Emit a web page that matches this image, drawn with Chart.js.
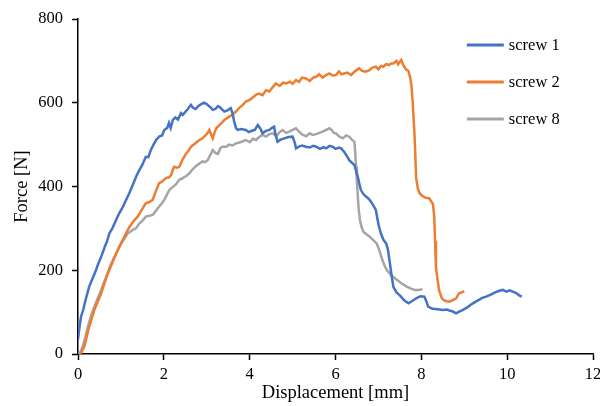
<!DOCTYPE html>
<html>
<head>
<meta charset="utf-8">
<script src="https://cdn.jsdelivr.net/npm/chart.js@4/dist/chart.umd.min.js"></script>
<style>
  html, body { margin: 0; padding: 0; background: #fff; }
  #wrap { width: 600px; height: 406px; }
</style>
</head>
<body>
<div id="wrap"><canvas id="force-chart" width="600" height="406"></canvas></div>
<script>
// Curvas força x deslocamento: pares [deslocamento mm, força N]
const screw1 = [
  [0,35],[0.03,60],[0.07,89],[0.12,105],[0.18,130],[0.26,161],[0.33,178],[0.4,195],[0.47,215],[0.54,232],
  [0.62,255],[0.68,270],[0.73,288],[0.8,300],[0.88,318],[0.96,336],[1.04,350],[1.12,368],[1.2,385],[1.28,405],
  [1.36,425],[1.43,439],[1.5,452],[1.58,471],[1.64,470],[1.7,488],[1.76,500],[1.82,511],[1.9,520],[1.96,522],
  [2.01,535],[2.08,540],[2.12,552],[2.16,540],[2.21,559],[2.27,565],[2.33,560],[2.4,575],[2.44,571],[2.5,578],
  [2.56,585],[2.63,595],[2.68,588],[2.74,585],[2.8,592],[2.86,596],[2.94,600],[3.0,597],[3.05,592],[3.1,588],
  [3.14,583],[3.2,585],[3.26,592],[3.29,591],[3.35,585],[3.41,579],[3.48,582],[3.56,587],[3.6,575],[3.64,555],
  [3.68,540],[3.72,535],[3.8,537],[3.91,535],[3.98,530],[4.05,533],[4.12,535],[4.19,547],[4.25,538],[4.3,527],
  [4.38,533],[4.46,535],[4.52,540],[4.57,543],[4.6,525],[4.65,507],[4.72,512],[4.81,515],[4.9,518],[5.0,519],
  [5.05,505],[5.08,491],[5.15,495],[5.22,498],[5.31,495],[5.4,493],[5.48,497],[5.55,495],[5.64,490],[5.72,494],
  [5.78,491],[5.86,497],[5.93,495],[6.0,490],[6.08,493],[6.13,491],[6.2,483],[6.27,472],[6.32,463],[6.38,457],
  [6.44,451],[6.48,437],[6.52,423],[6.56,405],[6.59,392],[6.65,382],[6.71,376],[6.78,370],[6.85,360],[6.94,344],
  [7.0,310],[7.05,290],[7.12,272],[7.18,264],[7.22,250],[7.27,215],[7.31,185],[7.35,160],[7.42,147],[7.5,140],
  [7.6,128],[7.7,121],[7.78,126],[7.88,133],[7.98,138],[8.07,137],[8.12,125],[8.16,113],[8.26,108],[8.38,107],
  [8.5,105],[8.6,106],[8.65,104],[8.72,102],[8.81,97],[8.88,101],[8.96,105],[9.08,112],[9.2,121],[9.32,128],
  [9.42,134],[9.51,137],[9.62,142],[9.72,147],[9.82,151],[9.9,153],[9.98,149],[10.06,152],[10.13,149],[10.2,146],
  [10.28,140],[10.34,137]
];

const screw2 = [
  [0.05,0],[0.1,8],[0.15,18],[0.2,40],[0.26,65],[0.32,85],[0.38,105],[0.46,125],[0.54,145],[0.62,170],
  [0.68,188],[0.73,201],[0.8,218],[0.89,240],[0.96,255],[1.04,272],[1.12,288],[1.18,300],[1.23,308],[1.3,318],
  [1.39,328],[1.46,340],[1.52,350],[1.58,360],[1.66,363],[1.74,368],[1.8,385],[1.85,398],[1.89,408],[1.96,412],
  [2.05,420],[2.12,422],[2.17,427],[2.21,440],[2.24,447],[2.3,445],[2.36,447],[2.44,465],[2.52,479],[2.58,486],
  [2.63,495],[2.72,502],[2.83,511],[2.9,515],[2.98,523],[3.02,528],[3.06,535],[3.1,525],[3.14,515],[3.18,528],
  [3.22,539],[3.3,547],[3.36,553],[3.41,559],[3.5,565],[3.58,570],[3.68,579],[3.76,588],[3.84,595],[3.91,603],
  [4.0,607],[4.1,615],[4.16,620],[4.22,622],[4.3,618],[4.38,630],[4.46,627],[4.52,635],[4.61,646],[4.7,640],
  [4.78,648],[4.85,646],[4.94,650],[5.0,645],[5.08,654],[5.15,650],[5.22,660],[5.31,658],[5.4,652],[5.48,660],
  [5.55,662],[5.62,668],[5.7,660],[5.78,666],[5.86,670],[5.93,665],[6.01,666],[6.08,675],[6.14,668],[6.2,670],
  [6.28,672],[6.36,666],[6.45,675],[6.55,682],[6.62,676],[6.7,674],[6.79,678],[6.86,684],[6.94,686],[7.0,680],
  [7.06,688],[7.11,686],[7.18,692],[7.25,690],[7.3,694],[7.35,694],[7.42,700],[7.46,692],[7.5,698],[7.53,702],
  [7.58,690],[7.64,680],[7.7,676],[7.74,660],[7.77,640],[7.8,599],[7.84,527],[7.88,420],[7.92,395],[7.96,384],
  [8.02,378],[8.1,373],[8.18,372],[8.23,365],[8.27,358],[8.3,330],[8.32,270],[8.34,209],[8.38,175],[8.42,150],
  [8.48,133],[8.53,128],[8.6,126],[8.65,125],[8.72,128],[8.81,133],[8.85,140],[8.88,145],[8.94,147],[9.0,150]
];

const screw8 = [
  [0.0,0],[0.03,0],[0.07,8],[0.11,18],[0.17,40],[0.23,65],[0.3,90],[0.38,113],[0.46,133],[0.54,153],
  [0.62,175],[0.69,193],[0.75,210],[0.81,224],[0.88,238],[0.96,256],[1.06,272],[1.16,288],[1.22,292],[1.27,296],
  [1.35,300],[1.43,312],[1.5,318],[1.58,328],[1.66,330],[1.74,332],[1.8,340],[1.86,348],[1.94,358],[2.01,368],
  [2.07,380],[2.13,392],[2.2,398],[2.28,405],[2.36,416],[2.44,420],[2.52,425],[2.59,431],[2.66,440],[2.74,448],
  [2.83,455],[2.9,460],[2.96,458],[3.02,463],[3.08,475],[3.14,487],[3.2,480],[3.26,478],[3.32,492],[3.37,495],
  [3.45,495],[3.52,500],[3.6,498],[3.68,503],[3.76,505],[3.84,508],[3.91,511],[4.0,506],[4.08,514],[4.15,511],
  [4.22,518],[4.3,523],[4.38,519],[4.46,525],[4.54,527],[4.62,520],[4.7,530],[4.77,535],[4.85,528],[4.92,531],
  [5.0,535],[5.08,539],[5.14,532],[5.2,526],[5.24,523],[5.32,520],[5.4,527],[5.47,523],[5.55,525],[5.62,528],
  [5.7,531],[5.78,535],[5.86,539],[5.92,534],[5.96,528],[6.01,527],[6.08,520],[6.17,515],[6.25,522],[6.32,519],
  [6.38,512],[6.44,507],[6.46,480],[6.48,447],[6.5,410],[6.52,376],[6.54,345],[6.57,320],[6.61,302],[6.65,292],
  [6.72,286],[6.8,280],[6.88,272],[6.96,264],[7.02,248],[7.08,228],[7.14,212],[7.19,201],[7.3,188],[7.43,177],
  [7.55,168],[7.66,161],[7.76,156],[7.85,153],[7.95,153],[8.03,155]
];

const seriesLabels = ['screw 1', 'screw 2', 'screw 8'];
const seriesColors = ['#4472C4', '#ED7D31', '#A5A5A5'];
const xTicks = [0, 2, 4, 6, 8, 10, 12];
const yTicks = [0, 200, 400, 600, 800];

const serifFont = '"Liberation Serif", "Times New Roman", serif';

function toPoints(pairs) {
  return pairs.map(p => ({ x: p[0], y: p[1] }));
}

// Legenda desenhada dentro da área do gráfico, à direita
const insideLegend = {
  id: 'insideLegend',
  afterDraw(chart) {
    const ctx = chart.ctx;
    const area = chart.chartArea;
    const x0 = area.left + (area.right - area.left) * 0.755;
    const y0 = area.top + 26;
    ctx.save();
    ctx.font = '16.5px ' + serifFont;
    ctx.textBaseline = 'middle';
    ctx.fillStyle = '#000';
    chart.data.datasets.forEach(function(ds, i) {
      const y = y0 + i * 37;
      ctx.strokeStyle = ds.borderColor;
      ctx.lineWidth = 3;
      ctx.beginPath();
      ctx.moveTo(x0, y);
      ctx.lineTo(x0 + 37, y);
      ctx.stroke();
      ctx.fillText(ds.label, x0 + 42, y + 1);
    });
    ctx.restore();
  }
};

const datasets = [screw1, screw2, screw8].map(function(pairs, i) {
  return {
    label: seriesLabels[i],
    data: toPoints(pairs),
    borderColor: seriesColors[i],
    backgroundColor: seriesColors[i],
    borderWidth: 2.5,
    pointRadius: 0,
    tension: 0,
    showLine: true,
    fill: false
  };
});

new Chart(document.getElementById('force-chart'), {
  type: 'scatter',
  data: { datasets: datasets },
  options: {
    responsive: false,
    animation: false,
    layout: { padding: { left: 0, right: 7, top: 19, bottom: 0 } },
    plugins: {
      legend: { display: false },
      tooltip: { enabled: false }
    },
    scales: {
      x: {
        type: 'linear',
        min: 0,
        max: 12,
        afterFit: function(scale) {
          scale.height = 52;
          // o rótulo "12" pode encostar na borda, sem reservar espaço extra
          scale.paddingLeft = 0;
          scale.paddingRight = 0;
        },
        afterBuildTicks: function(scale) { scale.ticks = xTicks.map(v => ({ value: v })); },
        border: { display: true, color: '#000', width: 1.5 },
        grid: { drawOnChartArea: false, drawTicks: true, tickLength: 6, tickColor: '#000', tickWidth: 1.5 },
        ticks: { color: '#000', padding: 5, font: { family: serifFont, size: 16.5 } },
        title: {
          display: true,
          text: 'Displacement [mm]',
          color: '#000',
          font: { family: serifFont, size: 18.5 },
          padding: { top: 0, bottom: 2 }
        }
      },
      y: {
        type: 'linear',
        min: 0,
        max: 800,
        afterFit: function(scale) { scale.width = 78; },
        afterBuildTicks: function(scale) { scale.ticks = yTicks.map(v => ({ value: v })); },
        border: { display: true, color: '#000', width: 1.5 },
        grid: { drawOnChartArea: false, drawTicks: true, tickLength: 6, tickColor: '#000', tickWidth: 1.5 },
        ticks: { color: '#000', padding: 9, font: { family: serifFont, size: 16.5 } },
        title: {
          display: true,
          text: 'Force [N]',
          color: '#000',
          font: { family: serifFont, size: 18.5 },
          padding: { top: 11, bottom: 0 }
        }
      }
    }
  },
  plugins: [insideLegend]
});
</script>
</body>
</html>
